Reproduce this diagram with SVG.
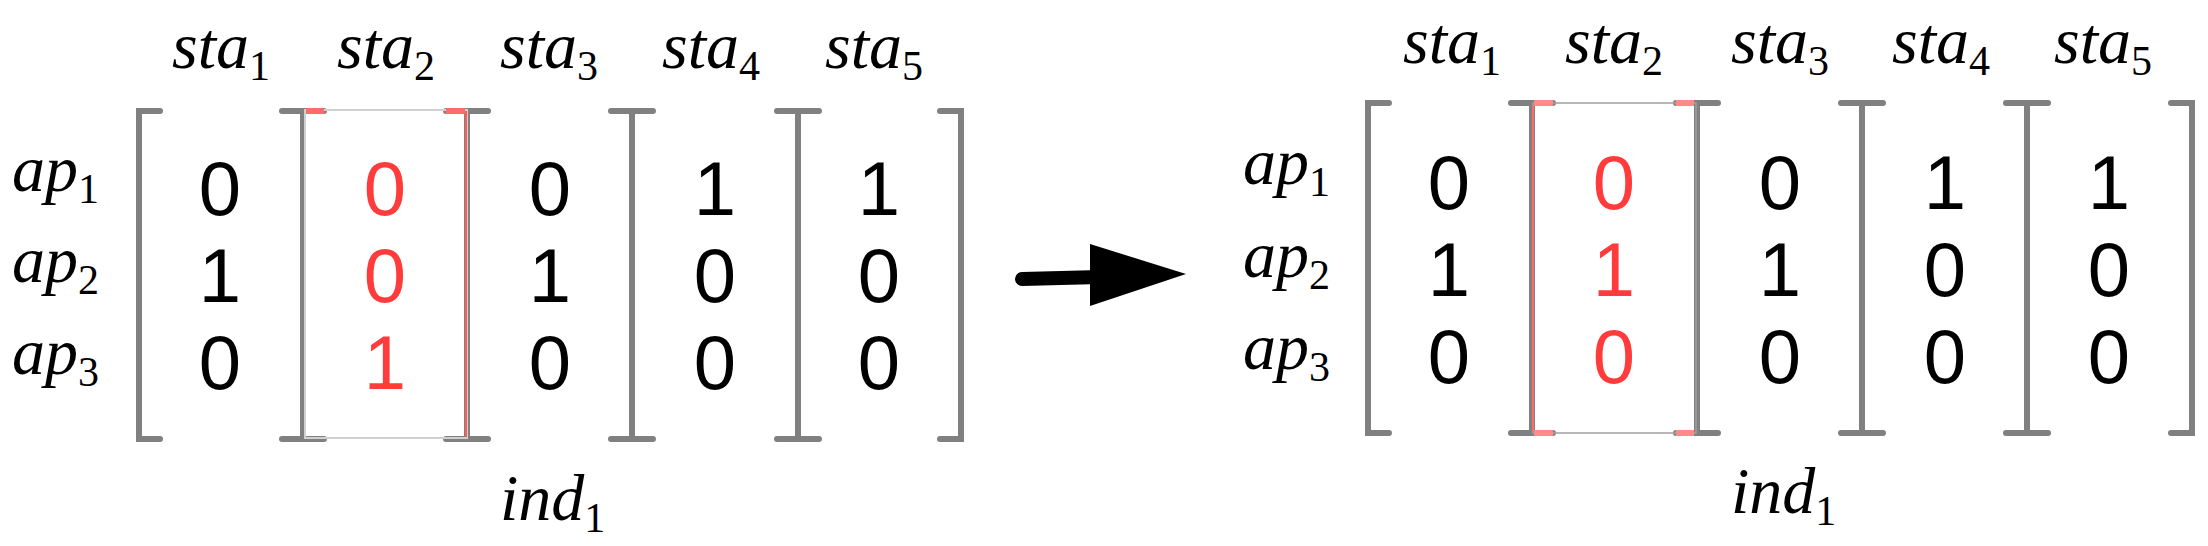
<svg xmlns="http://www.w3.org/2000/svg" width="2208" height="546" viewBox="0 0 2208 546">
<style>
.br{stroke:#808080;stroke-width:6;fill:none;stroke-linecap:round}
.d{font-family:"Liberation Sans",Arial,sans-serif;font-size:76px;text-anchor:middle;fill:#000}
.r{fill:#ff3b3b}
.m{font-family:"Liberation Serif","Times New Roman",serif;font-style:italic;font-size:66px;fill:#000}
.s{font-style:normal;font-size:42px}
</style>
<g id="left">
<path class="br" d="M160,111H139V439H160"/>
<path class="br" d="M282,111H324M303,111V439M282,439H324"/>
<path class="br" d="M446,111H488M467,111V439M446,439H488"/>
<path class="br" d="M611,111H653M632,111V439M611,439H653"/>
<path class="br" d="M777,111H819M798,111V439M777,439H819"/>
<path class="br" d="M940,111H961V439H940"/>
<rect x="305" y="110" width="162" height="328" fill="none" stroke="#d0d0d0" stroke-width="2"/>
<line x1="466" y1="111" x2="466" y2="437" stroke="#ff5a5a" stroke-width="2"/>
<path d="M306,111H324M446,111H465" stroke="#ff6b6b" stroke-width="6"/>
<text class="m" x="172" y="68">sta<tspan class="s" dy="12">1</tspan></text>
<text class="m" x="337" y="68">sta<tspan class="s" dy="12">2</tspan></text>
<text class="m" x="500" y="68">sta<tspan class="s" dy="12">3</tspan></text>
<text class="m" x="662" y="68">sta<tspan class="s" dy="12">4</tspan></text>
<text class="m" x="825" y="68">sta<tspan class="s" dy="12">5</tspan></text>
<text class="m" x="12" y="191">ap<tspan class="s" dy="12">1</tspan></text>
<text class="m" x="12" y="282">ap<tspan class="s" dy="12">2</tspan></text>
<text class="m" x="12" y="374">ap<tspan class="s" dy="12">3</tspan></text>
<text class="m" x="500" y="520">ind<tspan class="s" dy="12">1</tspan></text>
<text class="d" x="220" y="215">0</text><text class="d r" x="385" y="215">0</text><text class="d" x="550" y="215">0</text><text class="d" x="715" y="215">1</text><text class="d" x="879" y="215">1</text>
<text class="d" x="220" y="302">1</text><text class="d r" x="385" y="302">0</text><text class="d" x="550" y="302">1</text><text class="d" x="715" y="302">0</text><text class="d" x="879" y="302">0</text>
<text class="d" x="220" y="389">0</text><text class="d r" x="385" y="389">1</text><text class="d" x="550" y="389">0</text><text class="d" x="715" y="389">0</text><text class="d" x="879" y="389">0</text>
</g>
<g id="connectors">
<line x1="1022" y1="279" x2="1100" y2="277" stroke="#000" stroke-width="14" stroke-linecap="round"/>
<polygon points="1090,244 1186,274 1090,306" fill="#000"/>
</g>
<g id="right">
<path class="br" d="M1389,103H1368V433H1389"/>
<path class="br" d="M1511,103H1553M1532,103V433M1511,433H1553"/>
<path class="br" d="M1676,103H1718M1697,103V433M1676,433H1718"/>
<path class="br" d="M1841,103H1883M1862,103V433M1841,433H1883"/>
<path class="br" d="M2006,103H2048M2027,103V433M2006,433H2048"/>
<path class="br" d="M2171,103H2192V433H2171"/>
<rect x="1533" y="103" width="163" height="330" fill="none" stroke="#a0a0a0" stroke-width="1.5"/>
<line x1="1533" y1="105" x2="1533" y2="431" stroke="#ff6b6b" stroke-width="2"/>
<path d="M1534,103H1553M1676,103H1694M1534,433H1553M1676,433H1694" stroke="#ff8a8a" stroke-width="6"/>
<text class="m" x="1403" y="63">sta<tspan class="s" dy="12">1</tspan></text>
<text class="m" x="1565" y="63">sta<tspan class="s" dy="12">2</tspan></text>
<text class="m" x="1731" y="63">sta<tspan class="s" dy="12">3</tspan></text>
<text class="m" x="1892" y="63">sta<tspan class="s" dy="12">4</tspan></text>
<text class="m" x="2054" y="63">sta<tspan class="s" dy="12">5</tspan></text>
<text class="m" x="1243" y="184">ap<tspan class="s" dy="12">1</tspan></text>
<text class="m" x="1243" y="277">ap<tspan class="s" dy="12">2</tspan></text>
<text class="m" x="1243" y="369">ap<tspan class="s" dy="12">3</tspan></text>
<text class="m" x="1731" y="513">ind<tspan class="s" dy="12">1</tspan></text>
<text class="d" x="1449" y="209">0</text><text class="d r" x="1614" y="209">0</text><text class="d" x="1780" y="209">0</text><text class="d" x="1945" y="209">1</text><text class="d" x="2109" y="209">1</text>
<text class="d" x="1449" y="296">1</text><text class="d r" x="1614" y="296">1</text><text class="d" x="1780" y="296">1</text><text class="d" x="1945" y="296">0</text><text class="d" x="2109" y="296">0</text>
<text class="d" x="1449" y="383">0</text><text class="d r" x="1614" y="383">0</text><text class="d" x="1780" y="383">0</text><text class="d" x="1945" y="383">0</text><text class="d" x="2109" y="383">0</text>
</g>
</svg>
